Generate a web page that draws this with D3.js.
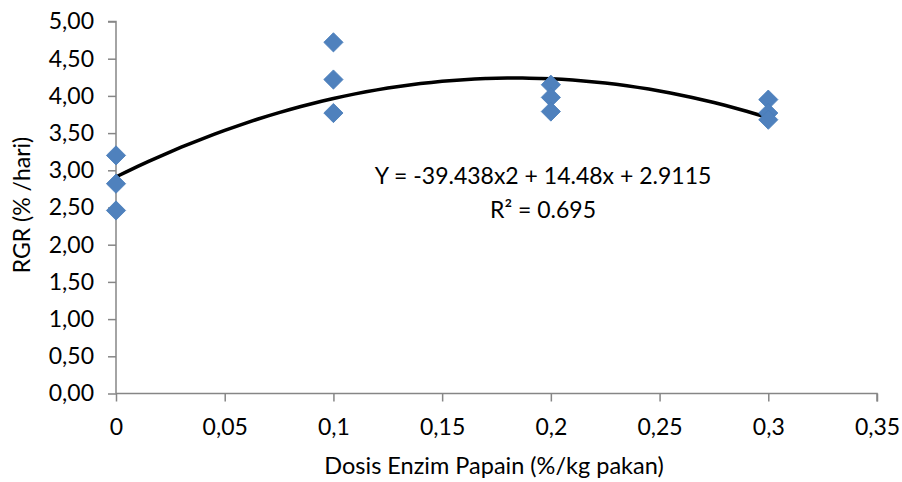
<!DOCTYPE html>
<html>
<head>
<meta charset="utf-8">
<script src="https://cdn.jsdelivr.net/npm/d3@7"></script>
<style>
  body { margin: 0; background: #fff; }
  text { font-family: Lato, "Open Sans", sans-serif; fill: #000; }
</style>
</head>
<body>
<div id="chart"></div>
<script>
// Data
const dose = [0, 0, 0, 0.1, 0.1, 0.1, 0.2, 0.2, 0.2, 0.3, 0.3, 0.3];
const rgr  = [3.20, 2.82, 2.46, 4.72, 4.22, 3.77, 4.15, 3.98, 3.79, 3.95, 3.77, 3.68];
const coef = [-39.438, 14.48, 2.9115];   // a, b, c of fitted curve
const xTicks = [0, 0.05, 0.1, 0.15, 0.2, 0.25, 0.3, 0.35];
const yTicks = [0, 0.5, 1, 1.5, 2, 2.5, 3, 3.5, 4, 4.5, 5];
const eqLabel = "Y = -39.438x2 + 14.48x + 2.9115";
const r2Label = "R² = 0.695";

const width = 902, height = 482;
const margin = { top: 21.5, right: 25, bottom: 88.5, left: 116 };

const svg = d3.select("#chart").append("svg")
  .attr("width", width)
  .attr("height", height);

const x = d3.scaleLinear().domain([0, 0.35]).range([margin.left, 877]);
const y = d3.scaleLinear().domain([0, 5]).range([height - margin.bottom, margin.top]);

const locale = d3.formatLocale({ decimal: ",", thousands: ".", grouping: [3], currency: ["", ""] });
const fmtY = locale.format(".2f");
const fmtX = d => d === 0 ? "0" : String(d).replace(".", ",");

// axes
const yAxis = svg.append("g")
  .attr("transform", `translate(${x(0)},0)`)
  .call(d3.axisLeft(y).tickValues(yTicks).tickFormat(fmtY).tickSize(8).tickPadding(14));

const xAxis = svg.append("g")
  .attr("transform", `translate(0,${y(0)})`)
  .call(d3.axisBottom(x).tickValues(xTicks).tickFormat(fmtX).tickSize(8).tickPadding(17));

[yAxis, xAxis].forEach(g => {
  g.select(".domain").attr("stroke", "#868686").attr("stroke-width", 1.5);
  g.selectAll(".tick line").attr("stroke", "#868686").attr("stroke-width", 1.5);
  g.selectAll(".tick text").style("font-size", "23px").attr("fill", "#000");
});
xAxis.select(".domain").attr("d", `M${x(0)},0H${x(0.35)}V8`);
yAxis.select(".domain").attr("d", `M-8,${y(5)}H0V${y(0)}`);

// fitted curve
const fit = v => coef[0] * v * v + coef[1] * v + coef[2];
const xs = d3.range(0, 0.3001, 0.005);
svg.append("path")
  .datum(xs)
  .attr("fill", "none")
  .attr("stroke", "#000")
  .attr("stroke-width", 3.5)
  .attr("d", d3.line().x(d => x(d)).y(d => y(fit(d))).curve(d3.curveBasis));

// points (diamonds = rotated squares)
svg.selectAll(".pt")
  .data(dose.map((d, i) => [d, rgr[i]]))
  .enter()
  .append("path")
  .attr("class", "pt")
  .attr("transform", d => `translate(${x(d[0])},${y(d[1])}) rotate(45)`)
  .attr("d", d3.symbol().type(d3.symbolSquare).size(185))
  .attr("fill", "#4F81BD")
  .attr("stroke", "#4A7EBB")
  .attr("stroke-width", 0.8);

// equation labels
svg.append("text")
  .attr("x", 543).attr("y", 184)
  .attr("text-anchor", "middle")
  .style("font-size", "23px")
  .text(eqLabel);
svg.append("text")
  .attr("x", 543).attr("y", 218)
  .attr("text-anchor", "middle")
  .style("font-size", "23px")
  .text(r2Label);

// axis titles
svg.append("text")
  .attr("x", 494)
  .attr("y", 474)
  .attr("text-anchor", "middle")
  .style("font-size", "23.5px")
  .text("Dosis Enzim Papain (%/kg pakan)");

svg.append("text")
  .attr("transform", "translate(30,205) rotate(-90)")
  .attr("text-anchor", "middle")
  .style("font-size", "23px")
  .text("RGR (% /hari)");
</script>
</body>
</html>
